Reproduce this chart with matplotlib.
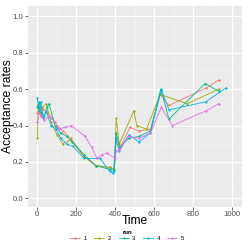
import matplotlib
matplotlib.use("Agg")
import matplotlib.pyplot as plt
from matplotlib.ticker import MultipleLocator

plt.rcParams['font.family'] = ['Liberation Sans', 'DejaVu Sans']

runs = ["1", "2", "3", "4", "5"]
colors = ["#F8766D", "#A3A500", "#00BF7D", "#00B0F6", "#E76BF3"]

t1 = [0, 10, 20, 30, 50, 75, 100, 130, 170, 240, 300, 370, 395, 405, 425, 475, 520, 580, 630, 675, 865, 932]
v1 = [0.47, 0.50, 0.45, 0.49, 0.47, 0.44, 0.40, 0.37, 0.33, 0.23, 0.18, 0.17, 0.16, 0.33, 0.28, 0.39, 0.37, 0.38, 0.57, 0.51, 0.605, 0.65]

t2 = [0, 5, 15, 25, 45, 70, 100, 130, 170, 240, 300, 370, 395, 404, 420, 495, 510, 560, 630, 769, 932]
v2 = [0.33, 0.52, 0.47, 0.50, 0.52, 0.42, 0.35, 0.30, 0.32, 0.23, 0.18, 0.17, 0.16, 0.44, 0.30, 0.48, 0.40, 0.38, 0.57, 0.52, 0.60]

t3 = [0, 10, 20, 35, 50, 60, 90, 120, 150, 180, 240, 300, 370, 395, 405, 420, 470, 520, 580, 633, 675, 860, 932]
v3 = [0.50, 0.53, 0.47, 0.45, 0.50, 0.52, 0.40, 0.36, 0.34, 0.31, 0.24, 0.18, 0.16, 0.15, 0.36, 0.28, 0.33, 0.34, 0.37, 0.60, 0.435, 0.63, 0.587]

t4 = [0, 8, 18, 30, 45, 70, 95, 120, 150, 183, 240, 322, 370, 390, 402, 420, 470, 520, 580, 636, 675, 864, 966]
v4 = [0.55, 0.48, 0.53, 0.44, 0.48, 0.40, 0.38, 0.33, 0.30, 0.285, 0.22, 0.22, 0.15, 0.14, 0.33, 0.26, 0.35, 0.31, 0.36, 0.596, 0.486, 0.53, 0.605]

t5 = [0, 10, 20, 35, 60, 90, 110, 140, 175, 245, 279, 306, 330, 356, 398, 404, 420, 470, 520, 580, 636, 692, 864, 932]
v5 = [0.42, 0.47, 0.45, 0.43, 0.45, 0.42, 0.38, 0.39, 0.40, 0.34, 0.28, 0.22, 0.24, 0.25, 0.22, 0.26, 0.27, 0.34, 0.33, 0.36, 0.50, 0.40, 0.48, 0.52]

times = [t1, t2, t3, t4, t5]
values = [v1, v2, v3, v4, v5]

W = 249.0
fig = plt.figure(figsize=(2.49, 2.49), dpi=100)
ax = fig.add_axes([28/W, 1-206.7/W, (241.7-28)/W, (206.7-6)/W])
ax.set_facecolor("#EBEBEB")
for s in ax.spines.values():
    s.set_visible(False)

for r, c, t, v in zip(runs, colors, times, values):
    ax.plot(t, v, color=c, lw=0.6, marker="o", ms=1.6, mew=0, label=r)

ax.set_xlim(-48, 1048)
ax.set_ylim(-0.045, 1.055)
ax.xaxis.set_major_locator(MultipleLocator(200))
ax.xaxis.set_minor_locator(MultipleLocator(100))
ax.yaxis.set_minor_locator(MultipleLocator(0.1))
ax.grid(which="major", color="white", lw=0.8)
ax.grid(which="minor", color="#F5F5F5", lw=0.4)
ax.set_axisbelow(True)
ax.set_yticks([0, 0.2, 0.4, 0.6, 0.8, 1.0])
ax.set_yticklabels(["0.0", "0.2", "0.4", "0.6", "0.8", "1.0"])
ax.tick_params(which="major", length=2, width=0.5, color="#333333", labelsize=5.6, labelcolor="#4D4D4D", pad=1.2)
ax.tick_params(which="minor", length=0)

ax.set_xlabel("Time", fontsize=8.7, va="center")
ax.xaxis.set_label_coords(0.5, -(221-206.7)/200.7)
ax.set_ylabel("Acceptance rates", fontsize=8.7, va="center")
ax.yaxis.set_label_coords(-(20.0)/213.7, 0.5)

handles, labels = ax.get_legend_handles_labels()
leg = fig.legend(handles, labels, loc="center", bbox_to_anchor=(127/W, 1-235.5/W), ncol=5,
                 title="run", fontsize=4.3, title_fontsize=4.3, frameon=False,
                 handlelength=1.7, handletextpad=0.6, columnspacing=1.2, borderpad=0, labelspacing=0)
leg.get_title().set_fontweight("bold")

fig.savefig("out.png", dpi=100)
